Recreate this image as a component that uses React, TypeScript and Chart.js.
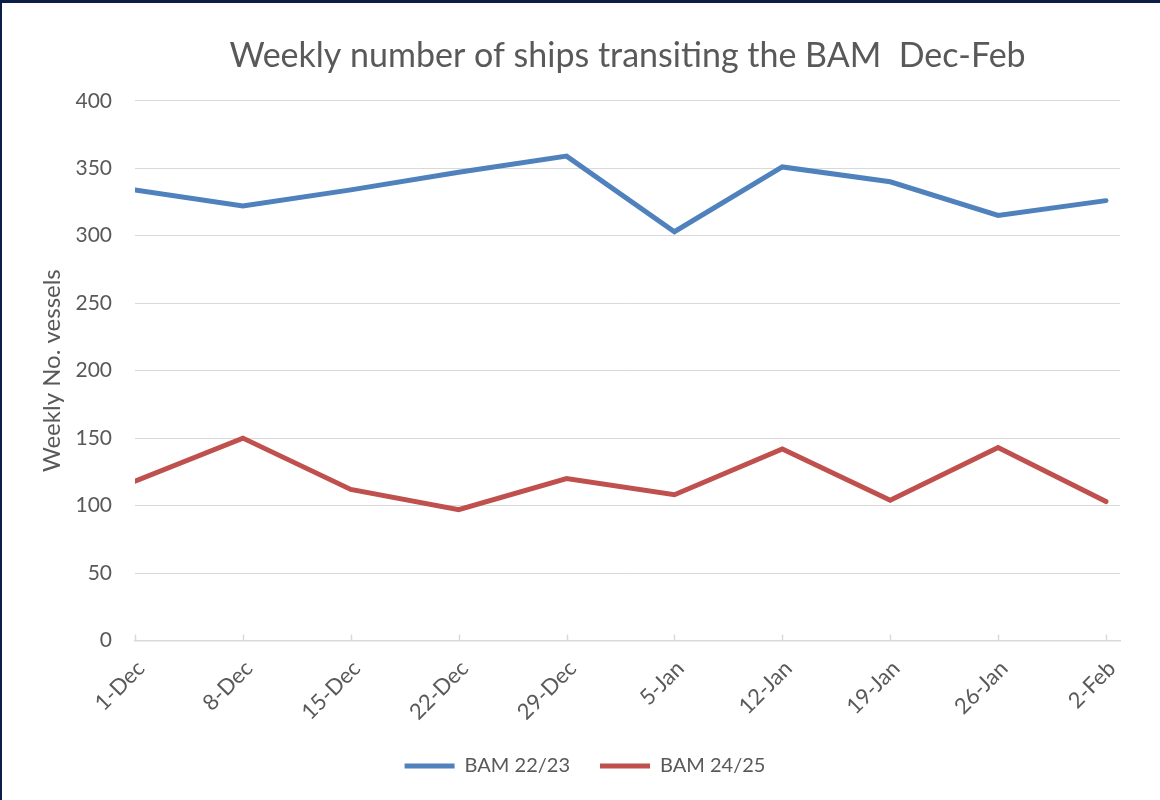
import React, { useEffect, useRef } from "react";
import { Chart, registerables } from "chart.js";

Chart.register(...registerables);

const categories = ["1-Dec", "8-Dec", "15-Dec", "22-Dec", "29-Dec", "5-Jan", "12-Jan", "19-Jan", "26-Jan", "2-Feb"];
const bam2223 = [334, 322, 334, 347, 359, 303, 351, 340, 315, 326];
const bam2425 = [118, 150, 112, 97, 120, 108, 142, 104, 143, 103];
const seriesNames = ["BAM 22/23", "BAM 24/25"];
const chartTitle = "Weekly number of ships transiting the BAM  Dec-Feb";
const yAxisTitle = "Weekly No. vessels";

const TEXT = "#595959";
const GRID = "#d9d9d9";
const FONT = "Lato";

const insideTicks = {
  id: "insideTicks",
  beforeDatasetsDraw(chart: any) {
    const xs = chart.scales.x;
    const { ctx, chartArea } = chart;
    ctx.save();
    ctx.strokeStyle = GRID;
    ctx.lineWidth = 1.5;
    xs.ticks.forEach((t: any) => {
      const px = Math.round(xs.getPixelForValue(t.value)) + 0.5;
      ctx.beginPath();
      ctx.moveTo(px, chartArea.bottom);
      ctx.lineTo(px, chartArea.bottom - 6);
      ctx.stroke();
    });
    ctx.restore();
  },
};

export default function App() {
  const ref = useRef<HTMLCanvasElement>(null);

  useEffect(() => {
    if (!ref.current) return;
    const chart = new Chart(ref.current, {
      type: "line",
      data: {
        datasets: [
          {
            label: seriesNames[0],
            data: categories.map((_, i) => ({ x: i, y: bam2223[i] })),
            borderColor: "#4f81bd",
            backgroundColor: "#4f81bd",
            borderWidth: 5,
            pointRadius: 0,
            borderCapStyle: "round",
            tension: 0,
          },
          {
            label: seriesNames[1],
            data: categories.map((_, i) => ({ x: i, y: bam2425[i] })),
            borderColor: "#c0504d",
            backgroundColor: "#c0504d",
            borderWidth: 5,
            pointRadius: 0,
            borderCapStyle: "round",
            tension: 0,
          },
        ],
      },
      options: {
        responsive: false,
        animation: false,
        devicePixelRatio: 1,
        layout: { padding: { left: 50, right: 40, top: 0, bottom: 14 } },
        plugins: {
          title: {
            display: true,
            text: chartTitle,
            fullSize: false,
            color: TEXT,
            font: { family: FONT, size: 34, weight: "normal" },
            padding: { top: 36, bottom: 24 },
          },
          legend: {
            position: "bottom",
            labels: {
              usePointStyle: true,
              pointStyle: "line",
              pointStyleWidth: 50,
              color: TEXT,
              font: { family: FONT, size: 20 },
              padding: 30,
            },
          },
          tooltip: { enabled: false },
        },
        scales: {
          x: {
            type: "linear",
            min: 0,
            max: categories.length - 1 + 0.13,
            afterBuildTicks: (scale: any) => {
              scale.ticks = categories.map((_, i) => ({ value: i }));
            },
            afterFit: (scale: any) => {
              scale.height = 85.5;
            },
            ticks: {
              callback: (v: any) => categories[v],
              color: TEXT,
              font: { family: FONT, size: 22 },
              maxRotation: 45,
              minRotation: 45,
              autoSkip: false,
              padding: 7,
              labelOffset: 6,
            },
            grid: { display: false },
            border: { display: true, color: GRID, width: 1.5 },
          },
          y: {
            min: 0,
            max: 400,
            ticks: {
              stepSize: 50,
              color: TEXT,
              font: { family: FONT, size: 21 },
              padding: 23,
            },
            afterFit: (scale: any) => {
              scale.width = 85;
            },
            grid: { color: GRID, lineWidth: 1, drawTicks: false },
            border: { display: false },
            title: {
              display: true,
              text: yAxisTitle,
              color: TEXT,
              font: { family: FONT, size: 24 },
              padding: { top: -12, bottom: 0 },
            },
          },
        },
      },
      plugins: [insideTicks],
    });
    return () => chart.destroy();
  }, []);

  return (
    <div style={{ position: "absolute", left: 0, top: 0, width: 1160, height: 800, background: "#fff" }}>
      <canvas ref={ref} width={1160} height={800} style={{ display: "block", width: 1160, height: 800 }} />
      <div
        style={{
          position: "absolute",
          left: 0,
          top: 0,
          width: 1160,
          height: 800,
          boxSizing: "border-box",
          borderTop: "3px solid #0c1e45",
          borderLeft: "2px solid #0c1e45",
          pointerEvents: "none",
        }}
      />
    </div>
  );
}
